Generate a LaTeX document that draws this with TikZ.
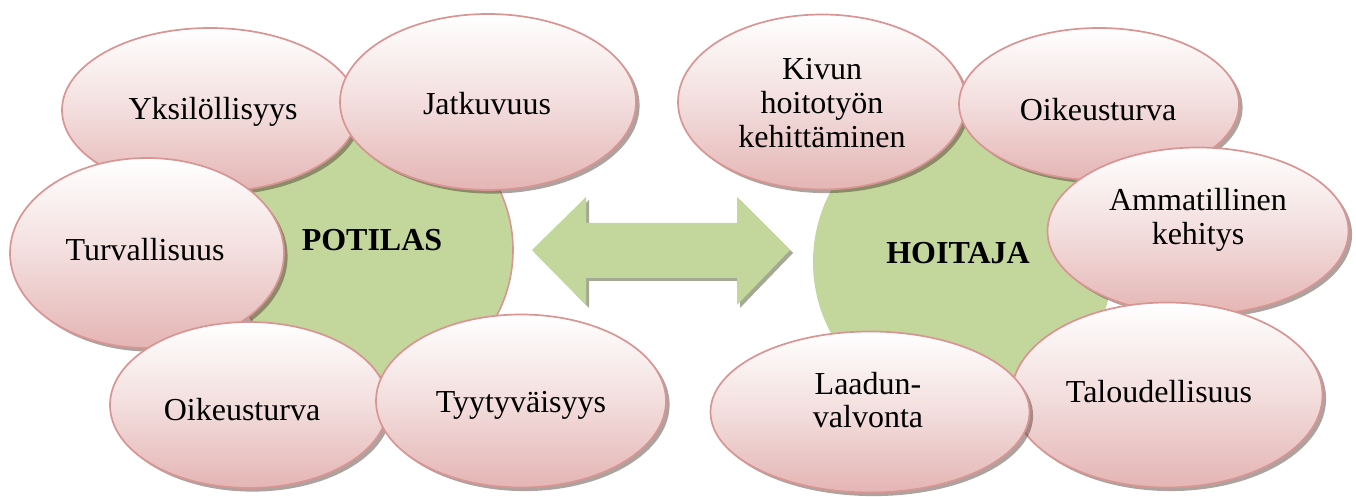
\documentclass[tikz,border=0pt]{standalone}
\usepackage{fontspec}
\setmainfont{Liberation Serif}
\usetikzlibrary{shapes.geometric,shadows}
\definecolor{greenF}{HTML}{C3D69B}
\definecolor{pinkB}{HTML}{E4B5B4}
\definecolor{pinkL}{HTML}{D99594}
\definecolor{shadowC}{HTML}{4A3028}
\definecolor{arrowS}{HTML}{A4A993}
\tikzset{
  bub/.style={ellipse, draw=pinkL, line width=0.85pt, inner sep=0pt,
    top color=white, bottom color=pinkB, middle color=pinkB!45!white,
    drop shadow={shadow xshift=1.8pt, shadow yshift=-1.8pt, fill=shadowC, opacity=0.45}},
  lbl/.style={font=\fontsize{16}{16.8}\selectfont, align=center, inner sep=0pt, text=black},
  hub/.style={font=\bfseries\fontsize{16}{16.8}\selectfont, inner sep=0pt},
}
\newcommand\Bub[5]{\node[bub, minimum width=#4*0.5pt, minimum height=#5*0.5pt] (#1) at (#2,#3) {};}
\begin{document}
\begin{tikzpicture}[x=0.5pt,y=-0.5pt]
\useasboundingbox (0,0) rectangle (1356,497);
% hubs
\node[circle, fill=greenF, draw=pinkL, line width=0.8pt, minimum size=280*0.5pt, inner sep=0pt] (potC) at (373,250) {};
\node[circle, fill=greenF, minimum size=300*0.5pt, inner sep=0pt] (hoiC) at (963,262) {};
% double arrow
\fill[arrowS] (535,253) -- (589,200) -- (589,226) -- (740,226) -- (740,200) -- (793,253) -- (740,308) -- (740,281) -- (589,281) -- (589,308) -- cycle;
\fill[greenF] (532,250) -- (586,197) -- (586,223) -- (737,223) -- (737,197) -- (790,250) -- (737,305) -- (737,278) -- (586,278) -- (586,305) -- cycle;
\node[hub] (pot) at (372,240) {POTILAS};
\node[hub] (hoi) at (958,253) {HOITAJA};
% left bubbles
\Bub{yks}{210}{110}{296}{164}
\Bub{jat}{488}{102}{296}{176}
\Bub{tur}{147}{253}{274}{190}
\Bub{oikL}{249}{405}{278}{166}
\Bub{tyy}{521}{401}{290}{173}
% right bubbles
\Bub{kiv}{822}{102}{288}{175}
\Bub{oikR}{1099}{104}{280}{152}
\Bub{amm}{1198}{231}{301}{167}
\Bub{tal}{1167}{395}{311}{185}
\Bub{laa}{870}{412}{319}{161}
% labels
\node[lbl] (tyks) at (213,112) {Yksilöllisyys};
\node[lbl] (tjat) at (487,104) {Jatkuvuus};
\node[lbl] (ttur) at (145,250) {Turvallisuus};
\node[lbl] (toikL) at (242,410) {Oikeusturva};
\node[lbl] (ttyy) at (521,405) {Tyytyväisyys};
\node[lbl] (tkiv) at (822,103) {Kivun\\hoitotyön\\kehittäminen};
\node[lbl] (toikR) at (1098,110) {Oikeusturva};
\node[lbl] (tamm) at (1198,220) {Ammatillinen\\kehitys};
\node[lbl] (ttal) at (1159,392) {Taloudellisuus};
\node[lbl] (tlaa) at (868,400) {Laadun-\\valvonta};
\end{tikzpicture}
\end{document}
